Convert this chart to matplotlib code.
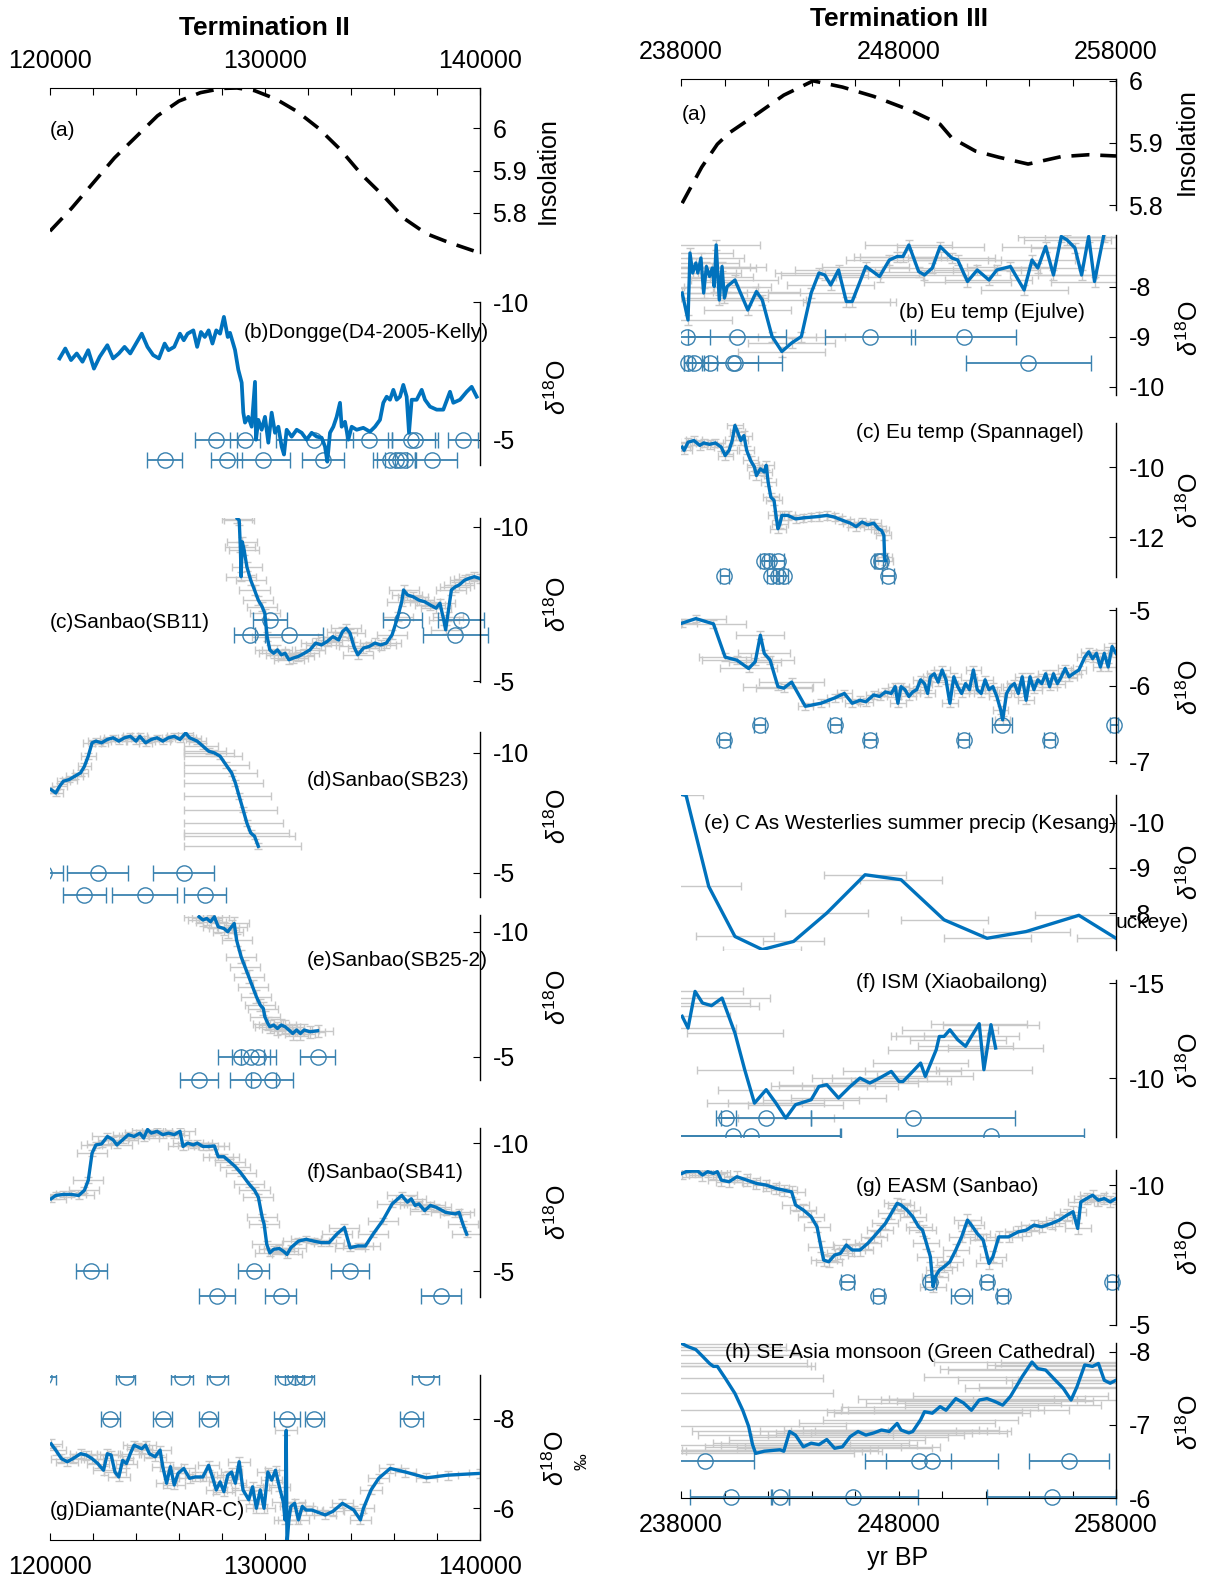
import numpy as np
import matplotlib
matplotlib.use("Agg")
import matplotlib.pyplot as plt

plt.rcParams["font.family"] = ["Liberation Sans", "DejaVu Sans"]
plt.rcParams["axes.unicode_minus"] = False
plt.rcParams["mathtext.fontset"] = "custom"
plt.rcParams["mathtext.rm"] = "Liberation Sans"
plt.rcParams["mathtext.it"] = "Liberation Sans:italic"

W, H = 1214, 1578
LINE = "#0072BD"
DATE = "#3a82b0"
GREY = "#c8c8c8"

# ---------------- Termination II (left column) ----------------
ins2_age = [120000, 121000, 122000, 123000, 124000, 125000, 126000, 127000, 128000, 128700,
            129500, 130500, 131500, 132500, 133500, 134500, 135500, 136500, 137500, 138500, 140000]
ins2_val = [5.756, 5.81, 5.87, 5.93, 5.98, 6.03, 6.065, 6.085, 6.095, 6.096,
            6.09, 6.07, 6.04, 6.0, 5.95, 5.89, 5.84, 5.785, 5.75, 5.73, 5.704]

dongge_age = [120444, 120711, 120978, 121244, 121511, 121778, 122044, 122311, 122667, 122933,
              123200, 123467, 123733, 124000, 124267, 124533, 124800, 125067, 125333, 125511,
              125778, 126044, 126222, 126400, 126667, 126844, 127022, 127200, 127378, 127556,
              127733, 127911, 128089, 128267,
              128372, 128605, 128758, 128915, 128992, 129070, 129225, 129380, 129535, 129581,
              129690, 129845, 130000, 130155, 130310, 130465, 130620, 130775, 130884, 131008,
              131240, 131473, 131706, 131938, 132171, 132403, 132636, 132790, 132898, 133023,
              133178, 133334, 133488, 133566, 133721, 133874, 134031, 134264, 134572, 134883,
              135116, 135348, 135503, 135659, 135814, 135969, 136124, 136279, 136433, 136589,
              136698, 136822, 137055, 137288, 137442, 137674, 137986, 138293, 138604, 138759,
              139069, 139380, 139612, 139845]
dongge_d18o = [-7.95, -8.31, -7.89, -8.13, -7.83, -8.25, -7.58, -8.01, -8.43, -7.95,
               -8.13, -8.37, -8.13, -8.49, -8.85, -8.37, -8.07, -7.95, -8.49, -8.25,
               -8.37, -8.85, -8.61, -8.85, -8.97, -8.37, -8.91, -8.73, -8.97, -8.49,
               -8.97, -8.85, -9.46, -8.73,
               -8.88, -8.26, -7.54, -7.07, -5.98, -5.62, -5.83, -5.47, -7.10, -5.0,
               -5.72, -5.36, -5.83, -4.89, -5.98, -5.25, -5.47, -4.75, -4.46, -5.36,
               -5.11, -5.36, -5.25, -5.0, -5.25, -5.11, -5.07, -4.75, -4.20, -5.25,
               -5.47, -5.83, -6.34, -5.47, -5.65, -5.0, -5.47, -5.36, -5.43, -5.29,
               -5.47, -5.72, -6.34, -6.56, -6.45, -6.81, -6.45, -6.56, -6.99, -6.56,
               -5.25, -6.45, -6.45, -6.81, -6.45, -6.20, -6.09, -6.09, -6.74, -6.34,
               -6.45, -6.74, -6.92, -6.56]
dongge_dates1_age = [127733, 129067, 132300, 134844, 136800, 136978, 139200]
dongge_dates1_err = [978, 711, 1800, 1067, 1100, 1067, 711]
dongge_dates2_age = [125333, 128222, 129920, 132711, 135822, 136089, 136267, 136533, 137778]
dongge_dates2_err = [800, 711, 1244, 978, 800, 889, 700, 500, 1156]

sb11_age = [128711, 128800, 128853, 128889, 128942, 129031, 129156, 129334, 129512, 129689,
            129867, 129992, 130099, 130223, 130401, 130579, 130757, 130935, 131112, 131290,
            131557, 131824, 132090, 132357, 132624, 132891, 133157, 133424, 133602, 133780,
            133957, 134135, 134313, 134580, 134847, 135113, 135380, 135646, 135913, 136180,
            136358, 136446, 136624, 136891, 137158, 137424, 137691, 137958, 138136, 138313,
            138402, 138491, 138669, 138847, 139025, 139291, 139469, 139736, 140000]
sb11_d18o = [-10.27, -10.22, -9.35, -8.39, -9.52, -9.25, -8.71, -8.28, -7.96, -7.63,
             -7.42, -7.20, -6.45, -6.02, -5.91, -6.02, -5.86, -5.91, -5.70, -5.75,
             -5.81, -5.91, -6.02, -6.24, -6.18, -6.29, -6.45, -6.34, -6.61, -6.72,
             -6.56, -6.13, -5.86, -6.08, -6.13, -6.24, -6.18, -6.24, -6.51, -7.10,
             -7.58, -7.96, -7.80, -7.74, -7.63, -7.58, -7.47, -7.37, -7.53, -6.99,
             -6.67, -7.10, -7.96, -8.06, -8.12, -8.28, -8.33, -8.39, -8.33]
sb11_dates1_age = [130223, 136393, 139113]
sb11_dates1_err = [800, 925, 1067]
sb11_dates2_age = [129281, 131112, 138847]
sb11_dates2_err = [711, 1600, 1511]

sb23_age = [120053, 120267, 120445, 120623, 120890, 121156, 121423, 121600, 121778, 121956,
            122134, 122400, 122667, 122934, 123200, 123467, 123734, 124000, 124178, 124445,
            124712, 124978, 125245, 125512, 125779, 126045, 126312, 126490, 126668, 126845,
            127112, 127379, 127645, 127912, 128179, 128446, 128623, 128801, 128979, 129157,
            129335, 129512, 129690]
sb23_d18o = [-8.47, -8.33, -8.61, -8.82, -8.89, -9.03, -9.17, -9.44, -9.86, -10.42,
             -10.49, -10.42, -10.56, -10.63, -10.49, -10.63, -10.69, -10.49, -10.69, -10.42,
             -10.56, -10.63, -10.49, -10.63, -10.69, -10.56, -10.83, -10.63, -10.56, -10.49,
             -10.28, -10.07, -10.0, -9.86, -9.51, -9.17, -8.75, -8.19, -7.64, -7.08,
             -6.67, -6.53, -6.11]
sb23_err_lo = [300, 350, 350, 300, 350, 400, 350, 300, 350, 400,
               350, 300, 350, 400, 350, 300, 350, 400, 350, 300,
               350, 400, 350, 300, 350, 400, 350, 300, 350, 400,
               862, 1129, 1395, 1662, 1929, 2196, 2373, 2551, 2729, 2907,
               3085, 3262, 3440]
sb23_err_hi = [300, 350, 350, 300, 350, 400, 350, 300, 350, 400,
               350, 300, 350, 400, 350, 300, 350, 400, 350, 300,
               350, 400, 350, 300, 350, 400, 350, 300, 350, 400,
               700, 800, 900, 1000, 1100, 1200, 1300, 1500, 1600, 1700,
               1800, 1900, 2000]
sb23_dates1_age = [119700, 122223, 126223]
sb23_dates1_err = [920, 1420, 1420]
sb23_dates2_age = [121600, 124409, 127201]
sb23_dates2_err = [1013, 1511, 978]

sb25_age = [126934, 127112, 127290, 127468, 127645, 127823, 128090, 128268, 128446, 128570,
            128677, 128890, 129068, 129246, 129423, 129601, 129779, 129921, 129992, 130135,
            130224, 130401, 130579, 130757, 130935, 131113, 131290, 131468, 131646, 131824,
            132090, 132446]
sb25_d18o = [-10.6, -10.47, -10.53, -10.4, -10.6, -10.2, -10.13, -10.0, -10.2, -10.33,
             -9.67, -9.0, -8.6, -8.2, -7.8, -7.4, -7.07, -6.93, -6.6, -6.33,
             -6.2, -6.27, -6.13, -6.27, -6.2, -6.07, -5.93, -6.07, -5.93, -6.07,
             -6.0, -6.04]
sb25_dates1_age = [128890, 129335, 129690, 132446]
sb25_dates1_err = [1067, 890, 800, 800]
sb25_dates2_age = [126934, 129423, 130312]
sb25_dates2_err = [890, 1067, 978]

sb41_age = [120053, 120267, 120623, 120979, 121334, 121601, 121779, 121957, 122134, 122401,
            122668, 122934, 123112, 123379, 123646, 123912, 124179, 124357, 124535, 124712,
            124979, 125246, 125512, 125779, 126046, 126188, 126402, 126668, 126846, 127113,
            127379, 127646, 127824, 128091, 128357, 128624, 128891, 129246, 129513, 129691,
            129869, 129958, 130083, 130225, 130402, 130669, 130847, 131025, 131202, 131558,
            131914, 132269, 132625, 132980, 133336, 133692, 133958, 134314, 134670, 135025,
            135470, 135914, 136358, 136625, 136803, 136981, 137159, 137425, 137692, 137959,
            138404, 138848, 139026, 139205, 139382]
sb41_d18o = [-7.83, -7.96, -8.0, -8.0, -7.96, -8.16, -8.55, -9.61, -9.93, -9.97,
             -10.26, -10.13, -9.93, -10.13, -10.33, -10.26, -10.39, -10.2, -10.53, -10.39,
             -10.46, -10.33, -10.39, -10.33, -10.46, -9.87, -10.0, -9.93, -10.0, -9.87,
             -9.87, -9.89, -9.47, -9.47, -9.28, -9.08, -8.82, -8.42, -8.16, -7.89,
             -7.11, -6.84, -6.05, -5.72, -5.86, -5.89, -5.79, -5.66, -5.92, -6.18,
             -6.25, -6.18, -6.12, -6.12, -6.45, -6.71, -5.92, -5.99, -5.99, -6.45,
             -6.97, -7.63, -7.96, -7.70, -7.83, -7.57, -7.63, -7.37, -7.57, -7.5,
             -7.30, -7.24, -7.30, -6.84, -6.45]
sb41_dates1_age = [121920, 129477, 133957]
sb41_dates1_err = [711, 711, 890]
sb41_dates2_age = [127770, 130721, 138189]
sb41_dates2_err = [836, 711, 925]

diam_age = [120053, 120267, 120533, 120800, 121067, 121422, 121689, 121956, 122222, 122489,
            122667, 122844, 123022, 123200, 123378, 123556, 123733, 123911, 124089, 124267,
            124444, 124622, 124889, 125120, 125244, 125422, 125600, 125778, 125956, 126222,
            126489, 126756, 127111, 127378, 127556, 127733, 127911, 128089, 128267, 128444,
            128622, 128800, 128978, 129244, 129422, 129600, 129778, 129956, 130133, 130311,
            130489, 130667, 130844, 130933, 130987, 131022, 131111, 131200, 131378, 131556,
            131733, 131911, 132178, 132800, 133156, 133600, 134133, 134436, 134578, 134933,
            135289, 135822, 136533, 137511, 138489, 140000]
diam_d18o = [-7.44, -7.30, -7.11, -7.04, -7.11, -7.22, -7.19, -7.11, -7.0, -6.85,
             -7.22, -7.19, -6.81, -6.70, -7.07, -7.0, -7.22, -7.41, -7.37, -7.33,
             -7.41, -7.22, -7.15, -7.30, -6.93, -6.56, -6.93, -6.52, -6.78, -6.89,
             -6.67, -6.70, -6.70, -6.96, -6.70, -6.41, -6.59, -6.37, -6.74, -6.81,
             -6.56, -7.04, -6.41, -6.19, -6.48, -6.0, -6.41, -6.0, -6.81, -6.63,
             -6.85, -6.48, -6.15, -5.74, -7.74, -5.2, -5.74, -6.04, -6.11, -5.74,
             -6.04, -5.96, -5.96, -5.85, -5.93, -6.11, -5.96, -5.74, -6.0, -6.41,
             -6.67, -6.89, -6.81, -6.68, -6.74, -6.78]
diam_dates1_age = [119700, 123520, 126133, 127787, 130933, 131378, 131822, 137478]
diam_dates1_err = [600, 445, 500, 500, 445, 445, 445, 620]
diam_dates2_age = [122809, 125245, 127378, 131022, 132302, 136800]
diam_dates2_err = [445, 445, 445, 620, 445, 530]

# ---------------- Termination III (right column) ----------------
ins3_age = [238054, 238952, 239671, 240210, 241468, 242726, 244074, 245422, 246860,
            248656, 249914, 250453, 251532, 252610, 253958, 255485, 256743, 258000]
ins3_val = [5.803, 5.861, 5.898, 5.916, 5.946, 5.977, 6.0, 5.990, 5.975,
            5.951, 5.930, 5.908, 5.887, 5.877, 5.866, 5.878, 5.881, 5.879]

ejulve_age = [238054, 238323, 238413, 238539, 238683, 238773, 238916, 239042, 239168, 239312,
              239438, 239527, 239617, 239761, 239887, 239995, 240120, 240480, 241073, 241468,
              241738, 242187, 242637, 243086, 243535, 243984, 244343, 244613, 244883, 245242,
              245601, 245871, 246500, 247129, 247578, 247937, 248207, 248477, 248926, 249195,
              249555, 249914, 250453, 250723, 251172, 251621, 252160, 252520, 253149, 253778,
              254137, 254406, 254766, 255125, 255485, 255754, 256114, 256419, 256743, 257012,
              257426]
ejulve_d18o = [-8.13, -8.67, -7.33, -7.73, -7.53, -7.73, -7.43, -8.13, -7.6, -7.8,
               -7.63, -8.0, -7.17, -8.27, -7.6, -8.23, -8.0, -7.87, -8.47, -8.1,
               -8.27, -9.0, -9.3, -9.13, -9.0, -8.13, -7.73, -7.77, -7.97, -7.67,
               -8.3, -8.3, -7.6, -7.8, -7.47, -7.4, -7.4, -7.17, -7.7, -7.77,
               -7.63, -7.2, -7.43, -7.47, -7.9, -7.67, -7.87, -7.67, -7.6, -8.07,
               -7.47, -7.63, -7.2, -7.77, -7.0, -7.07, -7.23, -7.77, -7.0, -7.9,
               -7.0]
ejulve_dates1_age = [238270, 240570, 246680, 250993]
ejulve_dates1_err = [1078, 2246, 2067, 2426]
ejulve_dates2_age = [238323, 238593, 239312, 240390, 240480, 253957]
ejulve_dates2_err = [180, 449, 359, 1168, 2156, 2875]

spann_age = [238054, 238144, 238323, 238593, 238863, 239042, 239312, 239581, 239851, 240031,
             240210, 240354, 240480, 240606, 240749, 240893, 241019, 241199, 241378, 241468,
             241648, 241828, 241917, 242007, 242133, 242277, 242367, 242457, 242547, 242636,
             242906, 243265, 243625, 243984, 244343, 244703, 245062, 245422, 245781, 246051,
             246320, 246590, 246860, 247075, 247219, 247327, 247362, 247398]
spann_d18o = [-9.43, -9.52, -9.29, -9.24, -9.38, -9.31, -9.35, -9.31, -9.43, -9.67,
              -9.52, -9.24, -8.81, -9.0, -9.24, -9.10, -9.52, -9.81, -10.0, -10.24,
              -10.05, -10.14, -9.95, -10.43, -10.86, -10.95, -11.38, -11.76, -11.62, -11.38,
              -11.38, -11.48, -11.45, -11.43, -11.41, -11.38, -11.43, -11.52, -11.60, -11.70,
              -11.57, -11.65, -11.60, -11.76, -11.81, -11.95, -12.57, -12.67]
spann_dates1_age = [241828, 242043, 242457, 247075, 247183]
spann_dates1_err = [216, 216, 270, 216, 270]
spann_dates2_age = [239995, 242151, 242457, 242726, 247524]
spann_dates2_err = [216, 216, 216, 216, 270]

d3_age = [238054, 238683, 239492, 240031, 240570, 241109, 241414, 241648, 241828, 242097,
          242457, 242726, 243086, 243714, 244433, 245062, 245511, 245871, 246230, 246500,
          246859, 247129, 247398, 247668, 247848, 247973, 248117, 248297, 248477, 248656,
          248836, 249016, 249195, 249339, 249465, 249645, 249824, 250004, 250184, 250363,
          250543, 250723, 250902, 251082, 251262, 251442, 251621, 251801, 251981, 252160,
          252340, 252520, 252699, 252789, 252969, 253149, 253328, 253508, 253688, 253867,
          254047, 254227, 254406, 254586, 254766, 254946, 255125, 255305, 255485, 255664,
          255844, 256024, 256293, 256563, 256743, 256922, 257102, 257282, 257462, 257641,
          257821, 258000]
d3_d18o = [-5.17, -5.11, -5.18, -5.62, -5.66, -5.77, -5.68, -5.33, -5.57, -5.66,
           -6.01, -6.03, -5.95, -6.27, -6.23, -6.16, -6.10, -6.23, -6.19, -6.21,
           -6.12, -6.14, -6.08, -6.10, -6.01, -6.23, -6.01, -6.05, -6.14, -6.08,
           -6.05, -5.92, -5.97, -6.10, -5.88, -5.84, -5.95, -5.79, -5.92, -6.23,
           -5.88, -6.01, -6.10, -5.97, -6.05, -5.79, -6.05, -6.10, -5.92, -6.05,
           -6.01, -6.14, -6.32, -6.45, -6.10, -6.01, -5.97, -6.10, -5.88, -6.19,
           -5.88, -6.05, -5.92, -5.97, -5.84, -6.01, -5.84, -5.97, -5.88, -5.77,
           -5.88, -5.84, -5.79, -5.62, -5.55, -5.64, -5.57, -5.75, -5.57, -5.75,
           -5.48, -5.57]
d3_err_early = [700, 1400, 1500, 1200, 1600, 1300, 1200, 1100, 1200, 1100, 1600, 1300, 1500]
d3_dates1_age = [241612, 245098, 252753, 257911]
d3_dates1_err = [270, 270, 450, 200]
d3_dates2_age = [239995, 246680, 250993, 254946]
d3_dates2_err = [270, 270, 270, 270]

kesang_age = [238054, 238234, 239276, 240480, 241738, 243175, 244703, 246464, 248117, 250094,
              252071, 253868, 256293, 258000]
kesang_d18o = [-10.63, -10.61, -8.59, -7.48, -7.19, -7.37, -8.0, -8.85, -8.74, -7.85,
               -7.44, -7.59, -7.95, -7.44]
kesang_err = [200, 800, 1500, 1800, 1800, 1400, 1900, 1900, 1900, 2000, 2000, 2000, 2000, 1800]

xiao_age = [238054, 238323, 238647, 238988, 239402, 239887, 240480, 240929, 241378, 241917,
            242367, 242816, 243265, 243984, 244343, 244703, 245242, 245781, 246230, 246680,
            247129, 247668, 248027, 248207, 248656, 249016, 249232, 249734, 249878, 250094,
            250363, 250723, 251082, 251352, 251711, 251927, 252250, 252466]
xiao_d18o = [-13.25, -12.63, -14.56, -13.95, -13.81, -14.21, -12.37, -10.44, -8.68, -9.39,
             -8.68, -7.89, -8.60, -8.86, -9.56, -9.65, -8.95, -9.56, -10.0, -9.74,
             -10.0, -10.35, -9.82, -9.82, -10.35, -10.79, -10.09, -11.49, -12.19, -12.19,
             -12.54, -12.02, -11.67, -12.19, -12.86, -10.44, -12.81, -11.58]
xiao_dates1_age = [240067, 241917, 248656]
xiao_dates1_err = [450, 2067, 4700]
xiao_dates2_age = [240390, 241199, 252250]
xiao_dates2_err = [4900, 4150, 4300]

sanbao3_age = [238054, 238234, 238503, 238773, 238988, 239222, 239492, 239671, 239851, 240210,
               240570, 241019, 241468, 241917, 242367, 242726, 243086, 243265, 243625, 243984,
               244253, 244433, 244559, 244793, 245062, 245332, 245601, 245871, 246230, 246590,
               246860, 247129, 247398, 247668, 247937, 248117, 248387, 248656, 248926, 249105,
               249285, 249465, 249591, 249698, 249878, 250094, 250363, 250633, 250902, 251172,
               251352, 251621, 251891, 252160, 252340, 252610, 253059, 253508, 253868, 254227,
               254586, 255036, 255395, 255754, 256024, 256240, 256384, 256653, 256922, 257192,
               257462, 257731, 258000]
sanbao3_d18o = [-10.42, -10.48, -10.5, -10.5, -10.36, -10.48, -10.42, -10.48, -10.18, -10.12,
                -10.30, -10.18, -10.06, -10.0, -9.88, -9.82, -9.76, -9.29, -9.11, -8.87,
                -8.51, -7.80, -7.32, -7.26, -7.50, -7.56, -7.86, -7.68, -7.68, -7.92,
                -8.15, -8.39, -8.63, -8.99, -9.35, -9.29, -9.11, -8.87, -8.51, -8.39,
                -7.92, -7.44, -6.37, -6.73, -6.96, -7.08, -7.26, -7.68, -8.15, -8.75,
                -8.57, -8.27, -8.04, -7.20, -7.44, -8.15, -8.15, -8.33, -8.39, -8.57,
                -8.51, -8.63, -8.75, -8.93, -9.05, -8.45, -9.40, -9.52, -9.64, -9.46,
                -9.52, -9.40, -9.52]
sanbao3_dates1_age = [245637, 249465, 252071, 257821]
sanbao3_dates1_err = [300, 250, 270, 250]
sanbao3_dates2_age = [247075, 250902, 252789]
sanbao3_dates2_err = [270, 480, 250]

green_age = [238054, 238323, 238683, 238952, 239312, 239492, 239671, 240031, 240480, 240839,
             241109, 241289, 241432, 241828, 242187, 242547, 242726, 242996, 243265, 243625,
             243984, 244343, 244703, 245062, 245422, 245781, 246140, 246500, 246860, 247219,
             247578, 247937, 248117, 248477, 248656, 249016, 249195, 249555, 249914, 250184,
             250633, 250992, 251352, 251711, 252071, 252430, 252789, 253149, 253688, 254137,
             254406, 254766, 255215, 255575, 255934, 256204, 256563, 256922, 257192, 257462,
             257731, 258000]
green_d18o = [-8.11, -8.07, -8.03, -7.95, -7.84, -7.80, -7.80, -7.64, -7.43, -7.20,
              -6.98, -6.73, -6.61, -6.64, -6.65, -6.66, -6.64, -6.91, -6.86, -6.70,
              -6.75, -6.73, -6.80, -6.68, -6.70, -6.84, -6.91, -6.86, -6.89, -6.93,
              -6.91, -7.02, -6.93, -6.89, -6.91, -7.07, -7.18, -7.16, -7.25, -7.20,
              -7.36, -7.30, -7.20, -7.34, -7.36, -7.32, -7.27, -7.39, -7.66, -7.86,
              -7.77, -7.75, -7.61, -7.50, -7.34, -7.52, -7.82, -7.80, -7.84, -7.61,
              -7.57, -7.61]
green_dates1_age = [239096, 248926, 249519, 255844]
green_dates1_err = [2280, 1490, 3050, 1850]
green_dates2_age = [240300, 242547, 245925, 255036]
green_dates2_err = [1890, 400, 2970, 2970]

fig = plt.figure(figsize=(W / 100, H / 100), dpi=100)

XR = {0: (50, 480, 120000, 140000), 1: (681, 1116, 238000, 258000)}


def panel(col, top, bottom, ylim, yticks):
    x0, x1, a0, a1 = XR[col]
    ax = fig.add_axes([x0 / W, 1 - bottom / H, (x1 - x0) / W, (bottom - top) / H])
    ax.set_facecolor("none")
    ax.set_xlim(a0, a1)
    ax.set_ylim(*ylim)
    for s in ["left", "top", "bottom"]:
        ax.spines[s].set_visible(False)
    ax.spines["right"].set_linewidth(1)
    ax.yaxis.tick_right()
    ax.set_yticks(yticks)
    ax.set_yticklabels(["%g" % t for t in yticks])
    ax.tick_params(axis="y", direction="in", length=5, labelsize=18, pad=9)
    ax.set_xticks([])
    return ax


def xaxis(ax, col, where):
    x0, x1, a0, a1 = XR[col]
    ax.spines[where].set_visible(True)
    ticks = list(range(a0, a1 + 1, 2000))
    ax.set_xticks(ticks)
    ax.set_xticklabels([str(t) if (t - a0) % 10000 == 0 else "" for t in ticks])
    if where == "top":
        ax.xaxis.tick_top()
    else:
        ax.xaxis.tick_bottom()
    ax.tick_params(axis="x", direction="in", length=5, labelsize=18, pad=11)


def dates(ax, ages, errs, y, clip=False):
    eb = ax.errorbar(ages, np.full(len(ages), y), xerr=errs, fmt="o", mfc="none",
                     mec=DATE, ecolor=DATE, color=DATE, ms=11, mew=1,
                     elinewidth=1.3, capsize=6, capthick=1.3, zorder=2)
    for art in [eb[0]] + list(eb[1]) + list(eb[2]):
        art.set_clip_on(clip)


def grey(ax, ages, vals, xerr, yerr=None):
    ax.errorbar(ages, vals, xerr=xerr, yerr=yerr, fmt="none", ecolor=GREY,
                elinewidth=1, capsize=3, zorder=1)


def series(ax, ages, vals, lw=2.4):
    ax.plot(ages, vals, color=LINE, lw=lw, zorder=3)


def label(x, y, s, size=15, **kw):
    fig.text(x / W, 1 - y / H, s, fontsize=size, va="center", **kw)


D18O = r"$\delta^{18}$O"

# ----- left column -----
ax = panel(0, 88, 253, (5.704, 6.096), [5.8, 5.9, 6])
xaxis(ax, 0, "top")
ax.plot(ins2_age, ins2_val, color="k", lw=2.6, dashes=(5, 3))
label(50, 130, "(a)")
label(548, 171, "Insolation", 18, rotation=90, ha="center")

ax = panel(0, 302, 465, (-4.08, -10), [-10, -5])
series(ax, dongge_age, dongge_d18o, 2.7)
dates(ax, dongge_dates1_age, dongge_dates1_err, -5.0)
dates(ax, dongge_dates2_age, dongge_dates2_err, -4.27)
label(244, 333, "(b)Dongge(D4-2005-Kelly)")
label(558, 387, D18O, 18, rotation=90, ha="center")

ax = panel(0, 518, 682, (-4.98, -10.29), [-10, -5])
grey(ax, sb11_age, sb11_d18o, 700, 0.15)
series(ax, sb11_age, sb11_d18o)
dates(ax, sb11_dates1_age, sb11_dates1_err, -6.99)
dates(ax, sb11_dates2_age, sb11_dates2_err, -6.51)
label(50, 623, "(c)Sanbao(SB11)")
label(558, 604, D18O, 18, rotation=90, ha="center")

ax = panel(0, 732, 897, (-4.0, -10.87), [-10, -5])
grey(ax, sb23_age, sb23_d18o, [sb23_err_lo, sb23_err_hi], 0.12)
series(ax, sb23_age, sb23_d18o)
dates(ax, sb23_dates1_age, sb23_dates1_err, -5.0, clip=True)
dates(ax, sb23_dates2_age, sb23_dates2_err, -4.1)
label(307, 780, "(d)Sanbao(SB23)")
label(558, 816, D18O, 18, rotation=90, ha="center")

ax = panel(0, 915, 1080, (-4.07, -10.67), [-10, -5])
grey(ax, sb25_age, sb25_d18o, 700, 0.25)
series(ax, sb25_age, sb25_d18o)
dates(ax, sb25_dates1_age, sb25_dates1_err, -5.0)
dates(ax, sb25_dates2_age, sb25_dates2_err, -4.07)
label(307, 960, "(e)Sanbao(SB25-2)")
label(558, 997, D18O, 18, rotation=90, ha="center")

ax = panel(0, 1128, 1297, (-4.0, -10.59), [-10, -5])
grey(ax, sb41_age, sb41_d18o, 700, 0.12)
series(ax, sb41_age, sb41_d18o)
dates(ax, sb41_dates1_age, sb41_dates1_err, -5.0)
dates(ax, sb41_dates2_age, sb41_dates2_err, -4.05)
label(307, 1172, "(f)Sanbao(SB41)")
label(558, 1212, D18O, 18, rotation=90, ha="center")

ax = panel(0, 1375, 1540, (-5.29, -8.98), [-8, -6])
xaxis(ax, 0, "bottom")
grey(ax, diam_age, diam_d18o, 500, 0.1)
series(ax, diam_age, diam_d18o)
dates(ax, diam_dates1_age, diam_dates1_err, -8.94, clip=True)
dates(ax, diam_dates2_age, diam_dates2_err, -8.0)
label(50, 1510, "(g)Diamante(NAR-C)")
label(556, 1458, D18O, 18, rotation=90, ha="center")
label(582, 1462, "\u2030", 12, rotation=90, ha="center")

label(264, 28, "Termination II", 19, ha="center", fontweight="bold")

# ----- right column -----
ax = panel(1, 79, 210, (5.792, 6.003), [5.8, 5.9, 6])
xaxis(ax, 1, "top")
ax.plot(ins3_age, ins3_val, color="k", lw=2.6, dashes=(5, 3))
label(682, 115, "(a)")
label(1187, 142, "Insolation", 18, rotation=90, ha="center")

ax = panel(1, 235, 395, (-10.17, -6.97), [-10, -9, -8])
grey(ax, ejulve_age, ejulve_d18o, 2000, 0.1)
series(ax, ejulve_age, ejulve_d18o)
dates(ax, ejulve_dates1_age, ejulve_dates1_err, -9.0, clip=True)
dates(ax, ejulve_dates2_age, ejulve_dates2_err, -9.53)
label(899, 313, "(b) Eu temp (Ejulve)")
label(1190, 328, D18O, 18, rotation=90, ha="center")

ax = panel(1, 423, 577, (-13.14, -8.74), [-12, -10])
grey(ax, spann_age, spann_d18o, 350, 0.12)
series(ax, spann_age, spann_d18o)
dates(ax, spann_dates1_age, spann_dates1_err, -12.67)
dates(ax, spann_dates2_age, spann_dates2_err, -13.1)
label(856, 433, "(c) Eu temp (Spannagel)")
label(1190, 500, D18O, 18, rotation=90, ha="center")

ax = panel(1, 608, 763, (-7.02, -4.97), [-7, -6, -5])
grey(ax, d3_age[:13], d3_d18o[:13], d3_err_early, 0.05)
grey(ax, d3_age[13:], d3_d18o[13:], 350, 0.05)
series(ax, d3_age, d3_d18o)
dates(ax, d3_dates1_age, d3_dates1_err, -6.52)
dates(ax, d3_dates2_age, d3_dates2_err, -6.71)
label(1190, 687, D18O, 18, rotation=90, ha="center")

ax = panel(1, 795, 950, (-7.18, -10.62), [-10, -9, -8])
grey(ax, kesang_age, kesang_d18o, kesang_err)
series(ax, kesang_age, kesang_d18o)
label(704, 823, "(e) C As Westerlies summer precip (Kesang)")
label(1116, 923, "uckeye)")
label(1190, 872, D18O, 18, rotation=90, ha="center")

ax = panel(1, 980, 1137, (-6.9, -15.16), [-15, -10])
grey(ax, xiao_age, xiao_d18o, 2200)
series(ax, xiao_age, xiao_d18o)
dates(ax, xiao_dates1_age, xiao_dates1_err, -7.89)
dates(ax, xiao_dates2_age, xiao_dates2_err, -6.95, clip=True)
label(856, 983, "(f) ISM (Xiaobailong)")
label(1190, 1060, D18O, 18, rotation=90, ha="center")

ax = panel(1, 1170, 1325, (-5.0, -10.54), [-10, -5])
grey(ax, sanbao3_age, sanbao3_d18o, 600, 0.2)
series(ax, sanbao3_age, sanbao3_d18o)
dates(ax, sanbao3_dates1_age, sanbao3_dates1_err, -6.55)
dates(ax, sanbao3_dates2_age, sanbao3_dates2_err, -6.04)
label(856, 1187, "(g) EASM (Sanbao)")
label(1190, 1247, D18O, 18, rotation=90, ha="center")

ax = panel(1, 1343, 1498, (-6.0, -8.12), [-8, -7, -6])
xaxis(ax, 1, "bottom")
grey(ax, green_age, green_d18o, 4500)
series(ax, green_age, green_d18o)
dates(ax, green_dates1_age, green_dates1_err, -6.5, clip=True)
dates(ax, green_dates2_age, green_dates2_err, -6.02)
label(725, 1353, "(h) SE Asia monsoon (Green Cathedral)")
label(1190, 1422, D18O, 18, rotation=90, ha="center")

label(899, 19, "Termination III", 19, ha="center", fontweight="bold")
label(898, 1558, "yr BP", 18, ha="center")

fig.savefig("out.png", dpi=100)
